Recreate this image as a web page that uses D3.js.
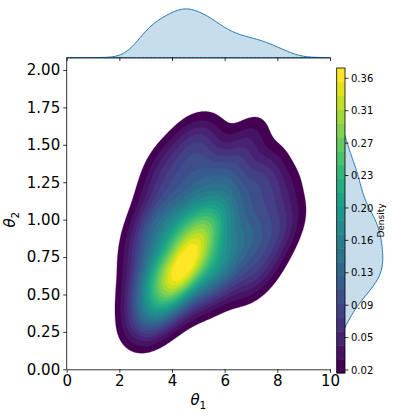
<!DOCTYPE html>
<html>
<head>
<meta charset="utf-8">
<script src="https://cdn.jsdelivr.net/npm/d3@7"></script>
<style>
  body { margin: 0; background: #fff; }
  svg { display: block; font-family: "DejaVu Sans", sans-serif; }
</style>
</head>
<body>
<div id="chart"></div>
<script>
// posterior samples, estimated from the shape of the density
const theta1 = [
  2.9, 3.3,
  2.95, 3.1, 3.6, 3.9, 4.2, 4.7, 5.5,
  2.85, 3.0, 3.3, 3.6, 3.8, 3.9, 3.4, 4.1, 4.3, 4.5, 4.5, 4.6, 4.2, 4.8, 5.2, 5.5, 5.9, 6.3, 7.0, 7.5, 3.95,
  2.8, 3.3, 3.7, 4.0, 4.4, 4.6, 4.7, 4.9, 5.1, 4.3, 4.9, 5.3, 5.5, 5.8, 6.1, 6.4, 6.9, 7.3, 8.0, 5.4,
  3.0, 3.4, 3.8, 4.2, 4.5, 4.8, 5.1, 5.3, 5.5, 5.8, 6.0, 6.4, 6.8, 7.5, 8.3,
  3.4, 4.2, 4.8, 5.3, 5.8, 6.3, 6.8, 7.5, 8.1,
  3.7, 4.5, 5.2, 5.8, 6.5, 7.5,
  4.6, 5.2, 6.9
];
const theta2 = [
  0.34, 0.31,
  0.45, 0.42, 0.36, 0.46, 0.44, 0.50, 0.52,
  0.56, 0.66, 0.56, 0.62, 0.52, 0.66, 0.70, 0.58, 0.64, 0.58, 0.68, 0.62, 0.72, 0.72, 0.66, 0.60, 0.68, 0.62, 0.60, 0.70, 0.56,
  0.80, 0.86, 0.78, 0.86, 0.78, 0.82, 0.76, 0.84, 0.80, 0.90, 0.92, 0.74, 0.88, 0.80, 0.74, 0.86, 0.80, 0.88, 0.86, 0.95,
  0.98, 0.98, 1.06, 0.98, 1.04, 1.00, 1.08, 0.94, 1.04, 0.98, 1.10, 1.02, 0.96, 1.04, 1.00,
  1.20, 1.22, 1.18, 1.26, 1.18, 1.24, 1.16, 1.24, 1.18,
  1.38, 1.36, 1.40, 1.34, 1.38, 1.34,
  1.54, 1.53, 1.54
];

const xTicks = [0, 2, 4, 6, 8, 10];
const yTicks = [0, 0.25, 0.5, 0.75, 1, 1.25, 1.5, 1.75, 2];
const cbarTickLabels = ['0.02', '0.05', '0.09', '0.13', '0.16', '0.20', '0.23', '0.27', '0.31', '0.36'];
const levelRange = [0.0165, 0.372];
const nBands = 22;
const bwAdjust = 0.85;

const W = 393, H = 417;
const svg = d3.select('#chart').append('svg').attr('width', W).attr('height', H);

const x = d3.scaleLinear().domain([0, 10]).range([66.7, 330]);
const y = d3.scaleLinear().domain([0, 2]).range([369.3, 70]);
const yTopEdge = 57.5;

// ---- 2D gaussian KDE (scott rule, full covariance) ----
const n = theta1.length;
const m1 = d3.mean(theta1), m2 = d3.mean(theta2);
let c11 = 0, c22 = 0, c12 = 0;
for (let i = 0; i < n; i++) {
  const a = theta1[i] - m1, b = theta2[i] - m2;
  c11 += a * a; c22 += b * b; c12 += a * b;
}
c11 /= n - 1; c22 /= n - 1; c12 /= n - 1;
const f2 = Math.pow(Math.pow(n, -1 / 6) * bwAdjust, 2);
const k11 = c11 * f2, k22 = c22 * f2, k12 = c12 * f2;
const det = k11 * k22 - k12 * k12;
const i11 = k22 / det, i22 = k11 / det, i12 = -k12 / det;
const norm2 = 1 / (2 * Math.PI * Math.sqrt(det) * n);

function density2(a, b) {
  let s = 0;
  for (let i = 0; i < n; i++) {
    const d1 = a - theta1[i], d2 = b - theta2[i];
    s += Math.exp(-0.5 * (i11 * d1 * d1 + 2 * i12 * d1 * d2 + i22 * d2 * d2));
  }
  return s * norm2;
}

const gx = 201, gy = 211, dx = 10 / (gx - 1), dy = 2.1 / (gy - 1);
const values = new Float64Array(gx * gy);
for (let j = 0; j < gy; j++) {
  for (let i = 0; i < gx; i++) values[j * gx + i] = density2(i * dx, j * dy);
}

const levels = d3.range(nBands + 1).map(i => levelRange[0] + i * (levelRange[1] - levelRange[0]) / nBands);
const bandColor = i => d3.interpolateViridis(i / (nBands - 1));

const contours = d3.contours().size([gx, gy]).thresholds(levels.slice(0, nBands))(values);
const proj = d3.geoTransform({
  point(px, py) { this.stream.point(x((px - 0.5) * dx), y((py - 0.5) * dy)); }
});
const path = d3.geoPath(proj);

svg.append('defs').append('clipPath').attr('id', 'plotClip')
  .append('rect').attr('x', x(0)).attr('y', yTopEdge).attr('width', x(10) - x(0)).attr('height', y(0) - yTopEdge);

svg.append('g').attr('clip-path', 'url(#plotClip)')
  .selectAll('path')
  .data(contours)
  .join('path')
    .attr('d', path)
    .attr('fill', (d, i) => bandColor(i))
    .attr('stroke', (d, i) => bandColor(i))
    .attr('stroke-width', 0.3);

// ---- joint axes ----
const xAxis = svg.append('g')
  .attr('transform', `translate(0,${y(0)})`)
  .call(d3.axisBottom(x).tickValues(xTicks).tickFormat(d3.format('d')).tickSize(3.5).tickSizeOuter(0).tickPadding(2.5));
const yAxis = svg.append('g')
  .attr('transform', `translate(${x(0)},0)`)
  .call(d3.axisLeft(y).tickValues(yTicks).tickFormat(d3.format('.2f')).tickSize(3.5).tickSizeOuter(0).tickPadding(3));
yAxis.select('.domain').attr('d', `M0,${y(0)}V${yTopEdge}`);
[xAxis, yAxis].forEach(g => {
  g.selectAll('text').attr('font-size', 15).attr('font-family', '"DejaVu Sans", sans-serif').attr('fill', '#000');
  g.selectAll('line, path').attr('stroke', '#000').attr('stroke-width', 0.8);
});

const xLabel = svg.append('text')
  .attr('x', (x(0) + x(10)) / 2).attr('y', 405)
  .attr('text-anchor', 'middle').attr('font-size', 15);
xLabel.append('tspan').attr('font-style', 'italic').text('θ');
xLabel.append('tspan').attr('font-size', 10.5).attr('dy', 3.5).text('1');

const yLabel = svg.append('text')
  .attr('transform', `translate(15,${(y(0) + y(2)) / 2}) rotate(-90)`)
  .attr('text-anchor', 'middle').attr('font-size', 15);
yLabel.append('tspan').attr('font-style', 'italic').text('θ');
yLabel.append('tspan').attr('font-size', 10.5).attr('dy', 3.5).text('2');

// ---- marginal KDEs ----
function kde1(arr, grid) {
  const sd = d3.deviation(arr);
  const bw = sd * Math.pow(arr.length, -1 / 5) * bwAdjust;
  const c = 1 / (arr.length * bw * Math.sqrt(2 * Math.PI));
  return grid.map(g => [g, c * d3.sum(arr, v => Math.exp(-0.5 * ((g - v) / bw) ** 2))]);
}

const margFill = 'rgba(31,119,180,0.25)', margLine = '#1f77b4';

const topData = kde1(theta1, d3.range(0, 10.0001, 0.05));
const topY = d3.scaleLinear().domain([0, d3.max(topData, d => d[1]) * 1.05]).range([yTopEdge, 6.5]);
svg.append('path').datum(topData)
  .attr('fill', margFill).attr('stroke', margLine).attr('stroke-width', 1)
  .attr('d', d3.area().x(d => x(d[0])).y0(yTopEdge).y1(d => topY(d[1])));
svg.append('g')
  .attr('transform', `translate(0,${yTopEdge})`)
  .call(d3.axisBottom(x).tickValues(xTicks).tickFormat('').tickSize(3.5).tickSizeOuter(0))
  .selectAll('line, path').attr('stroke', '#000').attr('stroke-width', 0.8);

const rightBase = 338;
const rightData = kde1(theta2, d3.range(0, 2.0001, 0.01));
const rightX = d3.scaleLinear().domain([0, d3.max(rightData, d => d[1]) * 1.05]).range([rightBase, rightBase + 47]);
svg.append('path').datum(rightData)
  .attr('fill', margFill).attr('stroke', margLine).attr('stroke-width', 1)
  .attr('d', d3.area().y(d => y(d[0])).x0(rightBase).x1(d => rightX(d[1])));

// ---- colorbar ----
const cb = { x: 336.7, w: 8.3, top: 68, bottom: 373 };
const cScale = d3.scaleLinear().domain(levelRange).range([cb.bottom, cb.top]);
const cbar = svg.append('g');
cbar.selectAll('rect.band')
  .data(d3.range(nBands))
  .join('rect')
    .attr('class', 'band')
    .attr('x', cb.x).attr('width', cb.w)
    .attr('y', i => cScale(levels[i + 1]))
    .attr('height', i => cScale(levels[i]) - cScale(levels[i + 1]) + 0.4)
    .attr('fill', i => bandColor(i));
cbar.append('rect')
  .attr('x', cb.x).attr('y', cb.top).attr('width', cb.w).attr('height', cb.bottom - cb.top)
  .attr('fill', 'none').attr('stroke', '#000').attr('stroke-width', 0.8);

const tickPos = cbarTickLabels.map((t, i) => cScale(0.02 + i * (0.36 - 0.02) / (cbarTickLabels.length - 1)));
cbar.selectAll('line.tick')
  .data(tickPos)
  .join('line')
    .attr('x1', cb.x + cb.w).attr('x2', cb.x + cb.w + 3.5)
    .attr('y1', d => d).attr('y2', d => d)
    .attr('stroke', '#000').attr('stroke-width', 0.8);
cbar.selectAll('text.tl')
  .data(cbarTickLabels)
  .join('text')
    .attr('x', cb.x + cb.w + 6)
    .attr('y', (d, i) => tickPos[i])
    .attr('dy', '0.36em')
    .attr('font-size', 10)
    .text(d => d);
cbar.append('text')
  .attr('transform', `translate(384,${(cb.top + cb.bottom) / 2}) rotate(-90)`)
  .attr('text-anchor', 'middle')
  .attr('font-size', 9)
  .text('Density');
</script>
</body>
</html>
